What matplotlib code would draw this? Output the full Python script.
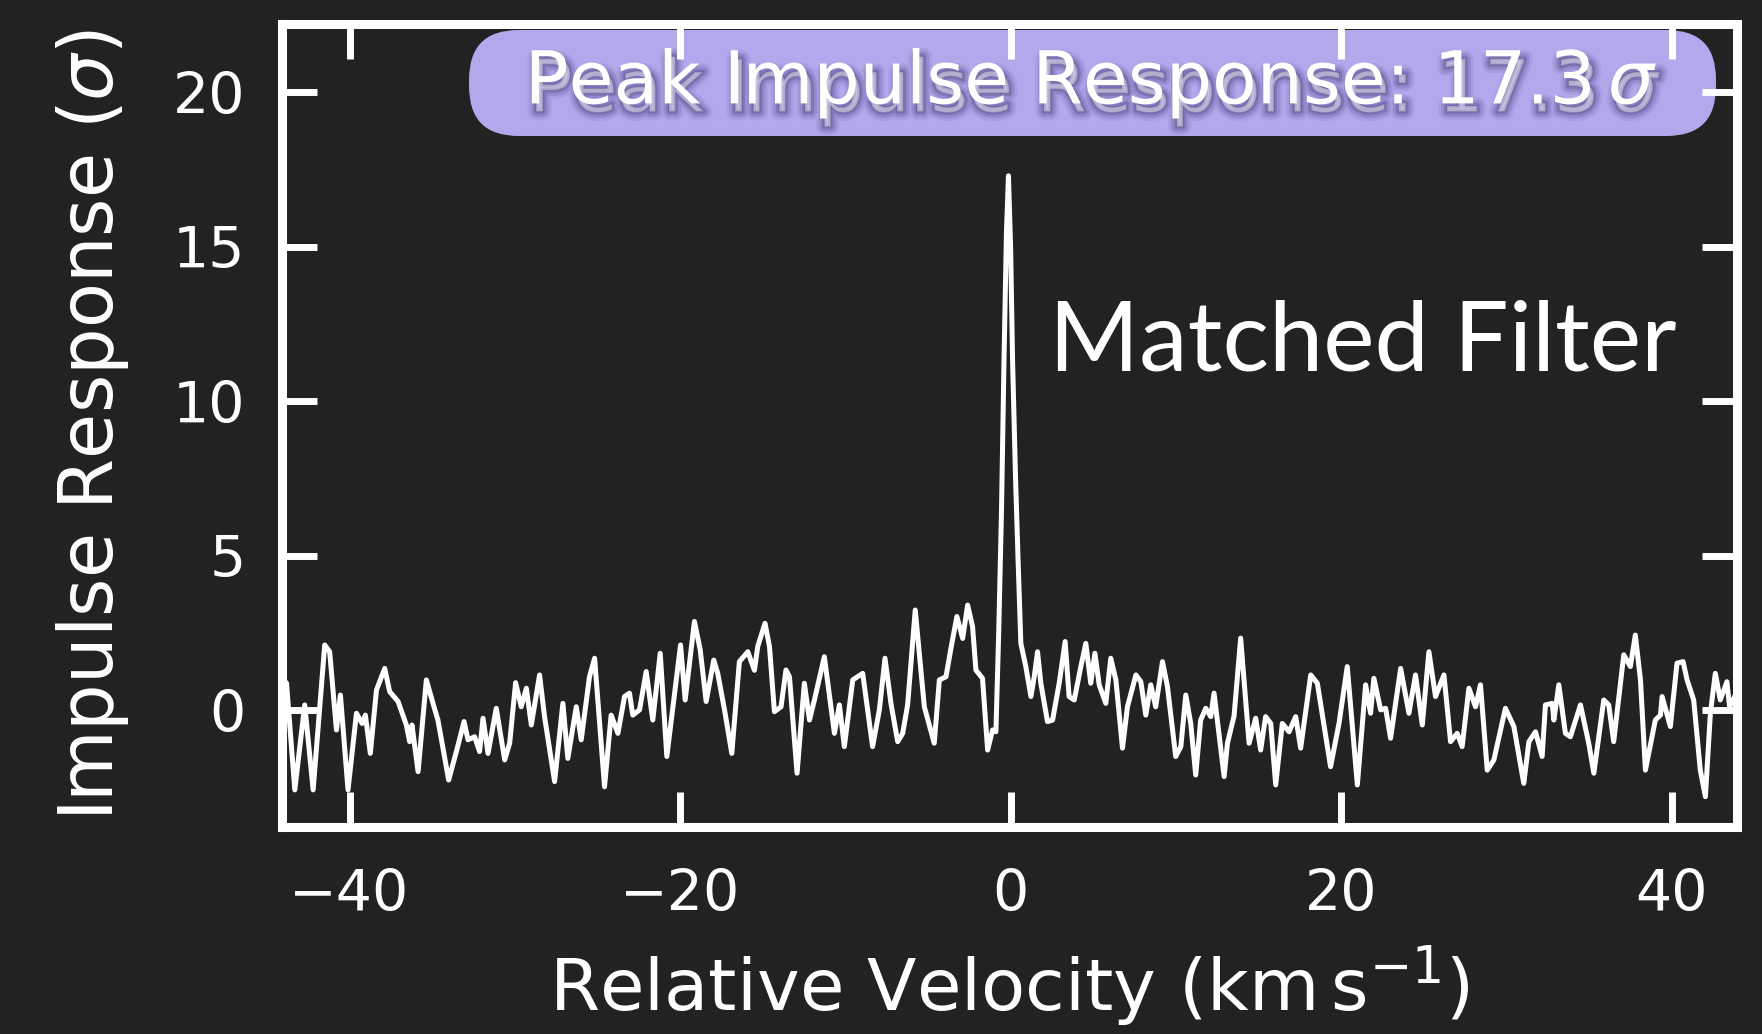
import matplotlib
matplotlib.use("Agg")
import matplotlib.pyplot as plt
import matplotlib.patheffects as pe
from matplotlib.patches import FancyBboxPatch
import numpy as np

# ---- data ----
velocity = [
    -44.0, -43.81, -43.31, -42.71, -42.2, -41.8, -41.5, -41.2, -40.79, -40.55,
    -40.09, -39.58, -39.24, -39.04, -38.74, -38.37, -37.87, -37.57, -37.06, -36.56,
    -36.36, -36.22, -35.85, -35.35, -34.89, -34.65, -34.0, -33.48, -33.07, -32.83,
    -32.43, -32.13, -31.92, -31.62, -31.12, -30.61, -30.31, -29.95, -29.61, -29.3,
    -29.0, -28.5, -28.2, -27.59, -27.09, -26.79, -26.28, -25.98, -25.48, -25.17,
    -24.57, -24.17, -23.76, -23.36, -23.06, -22.86, -22.45, -22.05, -21.65, -21.2,
    -20.8, -20.34, -19.97, -19.69, -19.13, -18.78, -18.42, -17.96, -17.72, -17.31,
    -16.87, -16.41, -15.9, -15.5, -15.3, -14.86, -14.59, -14.29, -13.89, -13.59,
    -13.38, -12.92, -12.48, -12.17, -11.87, -11.27, -10.66, -10.36, -10.06, -9.55,
    -8.95, -8.35, -7.94, -7.6, -7.24, -6.83, -6.53, -6.23, -5.77, -5.22,
    -4.62, -4.31, -3.91, -3.61, -3.25, -2.9, -2.6, -2.3, -2.1, -1.7,
    -1.39, -1.09, -0.89, -0.72, -0.55, -0.4, -0.25, -0.13, 0.0, 0.12,
    0.3, 0.45, 0.62, 0.92, 1.23, 1.43, 1.63, 1.83, 2.23, 2.54,
    2.94, 3.3, 3.54, 3.85, 4.25, 4.55, 4.85, 5.1, 5.36, 5.76,
    6.06, 6.37, 6.77, 7.07, 7.58, 7.88, 8.18, 8.48, 8.78, 9.19,
    9.49, 9.99, 10.3, 10.6, 10.9, 11.2, 11.5, 11.81, 12.11, 12.31,
    12.92, 13.12, 13.52, 13.92, 14.43, 14.83, 15.13, 15.43, 15.74, 16.04,
    16.44, 16.85, 17.25, 17.55, 18.16, 18.56, 19.36, 19.87, 20.37, 20.98,
    21.48, 21.78, 21.98, 22.39, 22.69, 22.99, 23.6, 24.1, 24.5, 24.91,
    25.31, 25.71, 26.22, 26.62, 27.02, 27.32, 27.73, 28.13, 28.43, 28.84,
    29.24, 29.94, 30.45, 31.05, 31.36, 31.76, 32.16, 32.36, 32.77, 32.87,
    33.17, 33.57, 33.87, 34.48, 34.98, 35.29, 35.89, 36.19, 36.49, 37.1,
    37.5, 37.8, 38.11, 38.41, 39.01, 39.32, 39.42, 39.92, 40.32, 40.69,
    40.93, 41.33, 41.73, 42.04, 42.34, 42.64, 42.94, 43.34, 43.5, 43.95,
]
response = [
    1.0, 0.88, -2.57, 0.18, -2.57, 0.12, 2.12, 1.9, -0.63, 0.5,
    -2.57, -0.09, -0.42, -0.15, -1.39, 0.66, 1.36, 0.61, 0.29, -0.47,
    -1.01, -0.47, -1.98, 0.99, 0.12, -0.31, -2.25, -1.22, -0.36, -0.95,
    -0.85, -1.33, -0.25, -1.39, 0.07, -1.6, -1.06, 0.9, 0.12, 0.72,
    -0.47, 1.15, -0.2, -2.3, 0.23, -1.55, 0.12, -0.95, 1.09, 1.69,
    -2.47, -0.15, -0.74, 0.45, 0.56, -0.15, 0.02, 1.26, -0.31, 1.85,
    -1.49, 0.5, 2.12, 0.34, 2.88, 1.96, 0.29, 1.63, 1.2, 0.02,
    -1.39, 1.58, 1.9, 1.3, 2.07, 2.82, 2.07, -0.04, 0.12, 1.31,
    1.09, -2.03, 0.88, -0.31, 0.34, 1.74, -0.74, 0.18, -1.17, 0.99,
    1.2, -1.17, 0.02, 1.69, 0.23, -1.01, -0.74, 0.18, 3.25, 0.12,
    -1.06, 0.99, 1.09, 2.01, 3.04, 2.33, 3.41, 2.71, 1.31, 1.04,
    -1.28, -0.63, -0.69, 2.5, 6.5, 11.3, 15.5, 17.3, 15.0, 11.3,
    7.5, 4.9, 2.17, 1.42, 0.45, 1.09, 1.9, 0.88, -0.36, -0.31,
    0.88, 2.23, 0.45, 0.34, 1.42, 2.17, 0.88, 1.85, 0.83, 0.23,
    1.69, 0.99, -1.22, 0.12, 1.15, 0.93, -0.15, 0.83, 0.12, 1.58,
    0.77, -1.49, -1.17, 0.5, -0.42, -2.09, -0.31, 0.07, -0.2, 0.56,
    -2.14, -1.06, -0.18, 2.34, -1.06, -0.25, -1.28, -0.2, -0.42, -2.41,
    -0.42, -0.69, -0.2, -1.22, 1.15, 0.88, -1.82, -0.42, 1.42, -2.41,
    0.83, -0.09, 1.04, 0.02, 0.07, -0.9, 1.36, -0.09, 1.15, -0.47,
    1.9, 0.45, 1.15, -1.01, -0.74, -1.17, 0.72, 0.12, 0.83, -1.93,
    -1.6, 0.07, -0.52, -2.36, -1.01, -0.69, -1.49, 0.18, 0.23, -0.31,
    0.83, -0.74, -0.85, 0.18, -1.06, -2.03, 0.34, 0.18, -1.01, 1.8,
    1.42, 2.44, 0.99, -1.93, -0.31, -0.15, 0.45, -0.52, 1.53, 1.58,
    0.99, 0.34, -1.93, -2.79, -0.09, 1.2, 0.34, 0.93, 0.12, 0.6,
]
x_ticks = [-40, -20, 0, 20, 40]
y_ticks = [0, 5, 10, 15, 20]
peak_sigma = 17.3

BG = "#222222"
FG = "white"

fig = plt.figure(figsize=(17.62, 10.34), dpi=100, facecolor=BG)
ax = fig.add_axes([0.1599, 0.2005, 0.8259, 0.776])
ax.set_facecolor(BG)

ax.plot(velocity, response, color=FG, lw=3.6, zorder=2,
        solid_joinstyle="round")

ax.set_xlim(-44.1, 43.95)
ax.set_ylim(-3.76, 22.2)
ax.set_xticks(x_ticks)
ax.set_yticks(y_ticks)

for s in ax.spines.values():
    s.set_color(FG)
    s.set_linewidth(6.5)

ax.tick_params(which="major", direction="in", length=25, width=5,
               top=True, right=True, colors=FG, labelsize=41)
ax.tick_params(axis="x", pad=30)
ax.tick_params(axis="y", pad=26)

ax.set_xlabel(r"Relative Velocity ($\mathrm{km\,s^{-1}}$)", color=FG,
              fontsize=52, labelpad=14)
ax.set_ylabel(r"Impulse Response ($\sigma$)", color=FG, fontsize=53,
              labelpad=30)

# header box
box = FancyBboxPatch((0.1287, 0.8608), 0.8569, 0.1321,
                     boxstyle="round,pad=0,rounding_size=0.034",
                     transform=ax.transAxes, mutation_aspect=1455.3 / 802.4,
                     facecolor="#b3a8ec", edgecolor="none", zorder=1,
                     clip_on=False)
ax.add_patch(box)

shadow = [
    pe.Stroke(linewidth=12, foreground="#2e2260", alpha=0.08, offset=(3, -6)),
    pe.Stroke(linewidth=8, foreground="#2e2260", alpha=0.14, offset=(3, -6)),
    pe.Stroke(linewidth=4, foreground="#2e2260", alpha=0.2, offset=(3, -6)),
    pe.Stroke(linewidth=1, foreground="#2e2260", alpha=0.25, offset=(3, -6)),
    pe.Normal(),
]
ax.text(0.556, 0.9014, r"Peak Impulse Response: $%.1f\,\sigma$" % peak_sigma,
        transform=ax.transAxes, ha="center", va="baseline", color=FG,
        fontsize=52.5, zorder=1.5, path_effects=shadow)

ax.text(2.35, 11.0, "Matched Filter", color=FG, fontsize=70,
        family=["Lato", "DejaVu Sans"], ha="left", va="baseline", zorder=3)

fig.savefig("out.png", dpi=100, facecolor=BG)
